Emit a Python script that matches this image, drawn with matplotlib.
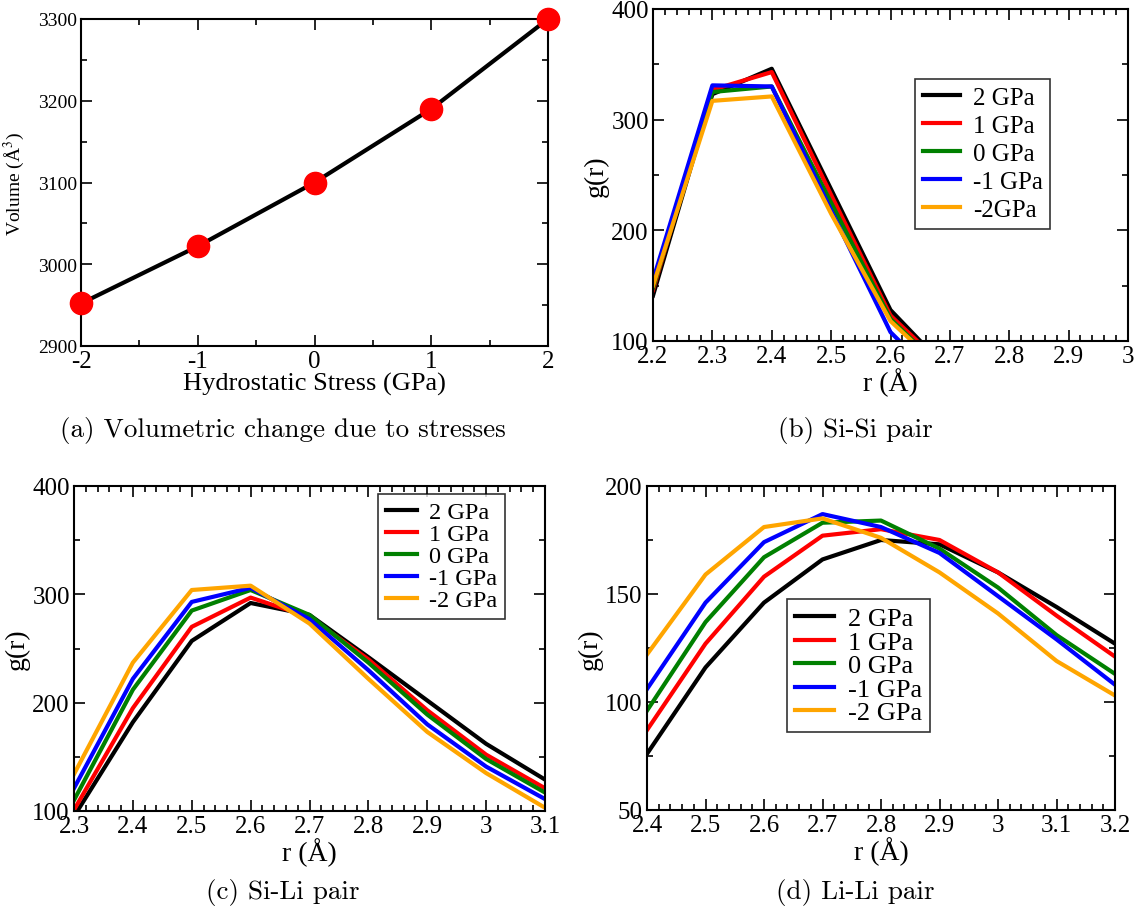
import matplotlib
matplotlib.use("Agg")
import matplotlib.pyplot as plt
from matplotlib.ticker import MultipleLocator

plt.rcParams['font.family'] = ['Liberation Serif', 'DejaVu Serif']
plt.rcParams['mathtext.fontset'] = 'stix'
plt.rcParams['axes.unicode_minus'] = False

# ---------- data ----------
stress = [-2, -1, 0, 1, 2]
volume = [2952, 3022, 3100, 3190, 3300]

labels_b = ['2 GPa', '1 GPa', '0 GPa', '-1 GPa', '-2GPa']
labels_cd = ['2 GPa', '1 GPa', '0 GPa', '-1 GPa', '-2 GPa']
colors = ['black', 'red', 'green', 'blue', 'orange']

r_sisi = [2.2, 2.3, 2.4, 2.5, 2.6, 2.7]
g_sisi_p2 = [141, 323, 346, 237, 128, 72]
g_sisi_p1 = [146, 327, 343, 232, 123, 72]
g_sisi_0 = [148, 325, 330, 225, 120, 68]
g_sisi_m1 = [155, 331, 330, 218, 108, 55]
g_sisi_m2 = [150, 317, 321, 215, 118, 68]

r_sili = [2.3, 2.4, 2.5, 2.6, 2.7, 2.8, 2.9, 3.0, 3.1]
g_sili_p2 = [95, 182, 257, 292, 281, 242, 202, 162, 129]
g_sili_p1 = [101, 195, 270, 297, 279, 240, 193, 152, 121]
g_sili_0 = [110, 212, 285, 304, 281, 237, 189, 148, 117]
g_sili_m1 = [121, 222, 293, 306, 277, 230, 180, 141, 111]
g_sili_m2 = [134, 237, 304, 308, 273, 222, 173, 135, 103]

r_lili = [2.4, 2.5, 2.6, 2.7, 2.8, 2.9, 3.0, 3.1, 3.2]
g_lili_p2 = [76, 116, 146, 166, 175, 173, 160, 144, 127]
g_lili_p1 = [87, 127, 158, 177, 180, 175, 160, 140, 121]
g_lili_0 = [96, 137, 167, 183, 184, 171, 153, 131, 113]
g_lili_m1 = [106, 146, 174, 187, 181, 169, 149, 129, 108]
g_lili_m2 = [122, 159, 181, 185, 176, 160, 141, 119, 103]

W, H = 1141, 920
fig = plt.figure(figsize=(W / 100, H / 100), dpi=100)


def add_ax(l, r, t, b):
    return fig.add_axes([l / W, 1 - b / H, (r - l) / W, (b - t) / H])


def style(ax, tick_fs, xmaj, xmin, ymaj, ymin, xtick_fs=None):
    ax.xaxis.set_major_locator(MultipleLocator(xmaj))
    ax.xaxis.set_minor_locator(MultipleLocator(xmin))
    ax.yaxis.set_major_locator(MultipleLocator(ymaj))
    ax.yaxis.set_minor_locator(MultipleLocator(ymin))
    ax.tick_params(which='both', direction='in', top=True, right=True,
                   width=1.2, labelsize=tick_fs, pad=3)
    if xtick_fs:
        ax.tick_params(axis='x', labelsize=xtick_fs)
    ax.tick_params(which='major', length=8)
    ax.tick_params(which='minor', length=4)
    for s in ax.spines.values():
        s.set_linewidth(1.5)


fmt = plt.FuncFormatter(lambda v, p: ('%g' % round(v, 2)))
leg_kw = dict(frameon=True, fancybox=False, edgecolor='black', handlelength=1.5,
              handletextpad=0.5, borderpad=0.3, borderaxespad=0)

# ---------- (a) ----------
ax = add_ax(81, 548, 20, 347)
ax.plot(stress, volume, color='black', lw=3, zorder=2)
ax.plot(stress, volume, 'o', color='red', ms=16, zorder=3, clip_on=False)
ax.set_xlim(-2, 2)
ax.set_ylim(2900, 3300)
style(ax, 14, 1, 0.5, 100, 50, xtick_fs=18)
ax.set_xlabel('Hydrostatic Stress (GPa)', fontsize=19, labelpad=0)
ax.set_ylabel('Volume (Å$^3$)', fontsize=14, labelpad=8)

# ---------- (b) ----------
ax = add_ax(653, 1128, 10, 342)
for y, c, lab in zip([g_sisi_p2, g_sisi_p1, g_sisi_0, g_sisi_m1, g_sisi_m2], colors, labels_b):
    ax.plot(r_sisi, y, color=c, lw=3, label=lab)
ax.set_xlim(2.2, 3.0)
ax.set_ylim(100, 400)
style(ax, 18, 0.1, 0.02, 100, 50)
ax.xaxis.set_major_formatter(fmt)
ax.set_xlabel('r (Å)', fontsize=20, labelpad=0)
ax.set_ylabel('g(r)', fontsize=20, labelpad=2)
ax.legend(loc='upper left', bbox_to_anchor=(0.552, 0.789), fontsize=18,
          labelspacing=0.22, **leg_kw).get_frame().set_linewidth(1.2)

# ---------- (c) ----------
ax = add_ax(74, 545, 487, 812)
for y, c, lab in zip([g_sili_p2, g_sili_p1, g_sili_0, g_sili_m1, g_sili_m2], colors, labels_cd):
    ax.plot(r_sili, y, color=c, lw=3, label=lab)
ax.set_xlim(2.3, 3.1)
ax.set_ylim(100, 400)
style(ax, 18, 0.1, 0.02, 100, 50)
ax.xaxis.set_major_formatter(fmt)
ax.set_xlabel('r (Å)', fontsize=20, labelpad=0)
ax.set_ylabel('g(r)', fontsize=20, labelpad=2)
ax.legend(loc='upper right', bbox_to_anchor=(0.915, 0.975), fontsize=17.5,
          labelspacing=0.0, handlelength=1.3, **{k: v for k, v in leg_kw.items() if k != 'handlelength'}
          ).get_frame().set_linewidth(1.2)

# ---------- (d) ----------
ax = add_ax(647, 1115, 487, 811)
for y, c, lab in zip([g_lili_p2, g_lili_p1, g_lili_0, g_lili_m1, g_lili_m2], colors, labels_cd):
    ax.plot(r_lili, y, color=c, lw=3, label=lab)
ax.set_xlim(2.4, 3.2)
ax.set_ylim(50, 200)
style(ax, 18, 0.1, 0.02, 50, 25)
ax.xaxis.set_major_formatter(fmt)
ax.set_xlabel('r (Å)', fontsize=20, labelpad=0)
ax.set_ylabel('g(r)', fontsize=20, labelpad=2)
ax.legend(loc='upper left', bbox_to_anchor=(0.299, 0.651), fontsize=19,
          labelspacing=0.0, **leg_kw).get_frame().set_linewidth(1.2)

# ---------- captions ----------
cap_kw = dict(fontsize=19.5, family='cmr10', ha='center', va='center')
fig.text(283 / W, 1 - 431 / H, '(a) Volumetric change due to stresses', **cap_kw)
fig.text(855 / W, 1 - 431 / H, '(b) Si-Si pair', **cap_kw)
fig.text(283 / W, 1 - 893 / H, '(c) Si-Li pair', **cap_kw)
fig.text(855 / W, 1 - 893 / H, '(d) Li-Li pair', **cap_kw)

fig.savefig('out.png', dpi=100)
